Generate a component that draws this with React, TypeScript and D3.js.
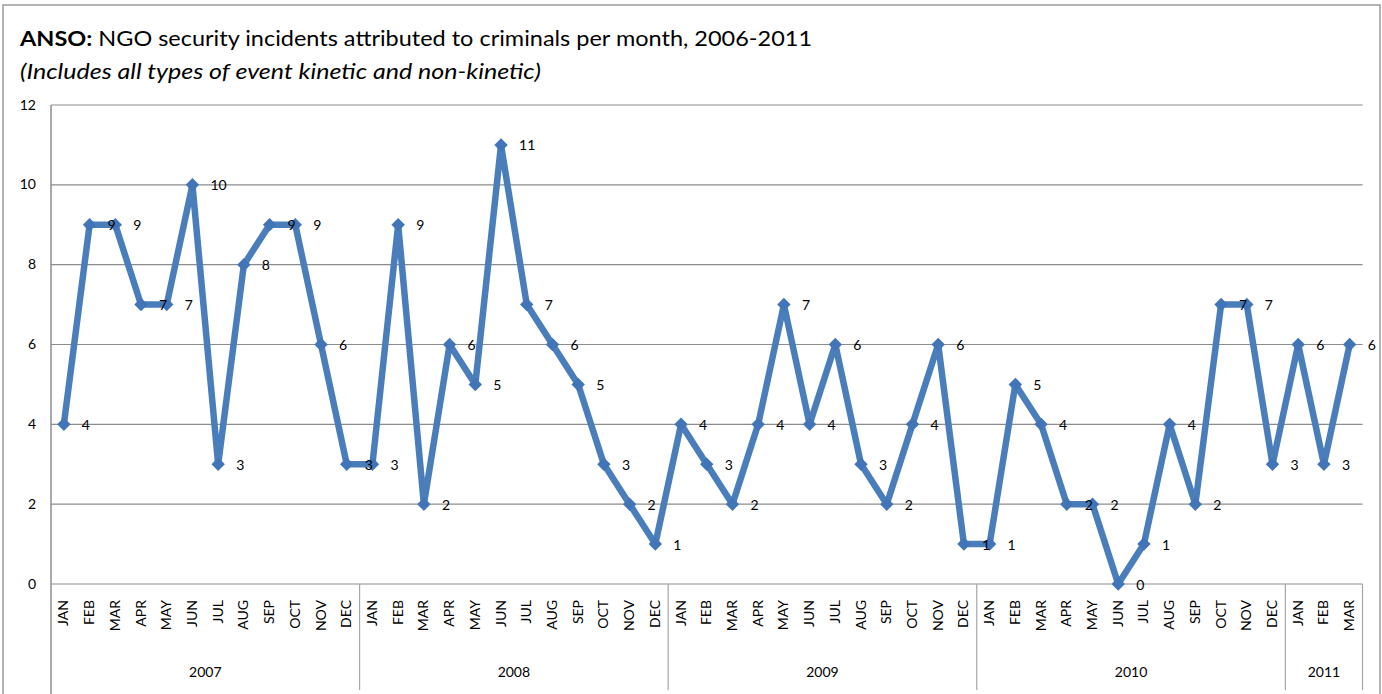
import React from "react";
import * as d3 from "d3";

const monthNames = ["JAN", "FEB", "MAR", "APR", "MAY", "JUN", "JUL", "AUG", "SEP", "OCT", "NOV", "DEC"];
const years = ["2007", "2008", "2009", "2010", "2011"];
const monthsPerYear = [12, 12, 12, 12, 3];

const incidents2007 = [4, 9, 9, 7, 7, 10, 3, 8, 9, 9, 6, 3];
const incidents2008 = [3, 9, 2, 6, 5, 11, 7, 6, 5, 3, 2, 1];
const incidents2009 = [4, 3, 2, 4, 7, 4, 6, 3, 2, 4, 6, 1];
const incidents2010 = [1, 5, 4, 2, 2, 0, 1, 4, 2, 7, 7, 3];
const incidents2011 = [6, 3, 6];

const yTicks = [0, 2, 4, 6, 8, 10, 12];

const W = 1382;
const H = 694;
const left = 51;
const right = 1362.5;
const top = 105;
const bottom = 584;

const font = "Lato, 'Open Sans', sans-serif";
const lineColor = "#4A7EBB";
const markerColor = "#4275B8";

type Pt = { key: string; month: string; year: string; value: number };

export default function App() {
  const seriesByYear = [incidents2007, incidents2008, incidents2009, incidents2010, incidents2011];
  const points: Pt[] = [];
  seriesByYear.forEach((vals, yi) => {
    vals.forEach((v, mi) => {
      points.push({ key: `${years[yi]}-${mi}`, month: monthNames[mi], year: years[yi], value: v });
    });
  });

  const x = d3
    .scaleBand<string>()
    .domain(points.map((p) => p.key))
    .range([left, right])
    .paddingInner(0)
    .paddingOuter(0);
  const bw = x.bandwidth();
  const cx = (k: string) => (x(k) as number) + bw / 2;
  const y = d3.scaleLinear().domain([0, 12]).range([bottom, top]);

  const line = d3
    .line<Pt>()
    .x((d) => cx(d.key))
    .y((d) => y(d.value));

  const diamond = d3.symbol().type(d3.symbolDiamond2).size(115)();

  // year group boundaries
  const groups: { year: string; start: number; end: number }[] = [];
  let idx = 0;
  years.forEach((yr, yi) => {
    const first = points[idx].key;
    const last = points[idx + monthsPerYear[yi] - 1].key;
    groups.push({ year: yr, start: x(first) as number, end: (x(last) as number) + bw });
    idx += monthsPerYear[yi];
  });

  return (
    <svg width={W} height={H} style={{ position: "absolute", left: 0, top: 0, background: "#fff" }}>
      <rect x={3} y={5} width={1377} height={H + 20} fill="#fff" stroke="#9a9a9a" strokeWidth={1.5} />

      <text x={20} y={46} fontFamily={font} fontSize={21.5} fill="#000" textLength={792} lengthAdjust="spacingAndGlyphs">
        <tspan fontWeight="bold">ANSO:</tspan>
        <tspan> NGO security incidents attributed to criminals per month, 2006-2011</tspan>
      </text>
      <text x={20} y={79} fontFamily={font} fontSize={21.5} fontStyle="italic" fill="#000" textLength={521} lengthAdjust="spacingAndGlyphs">
        (Includes all types of event kinetic and non-kinetic)
      </text>

      {/* horizontal gridlines and y tick labels */}
      {yTicks.map((t) => (
        <g key={t}>
          <line x1={left} x2={right} y1={y(t)} y2={y(t)} stroke="#8c8c8c" strokeWidth={1.2} />
          <text x={36} y={y(t) + 1} fontFamily={font} fontSize={14} textAnchor="end" dominantBaseline="middle" fill="#000">
            {t}
          </text>
        </g>
      ))}

      {/* value axis line */}
      <line x1={left} x2={left} y1={top} y2={H} stroke="#8c8c8c" strokeWidth={1.5} />

      {/* year separators */}
      {groups.map((g) => (
        <line key={g.year} x1={g.end} x2={g.end} y1={bottom} y2={690} stroke="#a6a6a6" strokeWidth={1.2} />
      ))}

      {/* month labels */}
      {points.map((p) => (
        <text
          key={"m" + p.key}
          transform={`translate(${cx(p.key) + 1},600) rotate(-90)`}
          fontFamily={font}
          fontSize={14}
          textAnchor="end"
          dominantBaseline="middle"
          fill="#000"
        >
          {p.month}
        </text>
      ))}

      {/* year labels */}
      {groups.map((g) => (
        <text key={"y" + g.year} x={(g.start + g.end) / 2} y={677} fontFamily={font} fontSize={14} textAnchor="middle" fill="#000">
          {g.year}
        </text>
      ))}

      <path d={line(points) || ""} fill="none" stroke={lineColor} strokeWidth={6.5} strokeLinejoin="round" />

      {points.map((p) => (
        <path key={"d" + p.key} d={diamond || ""} transform={`translate(${cx(p.key)},${y(p.value)})`} fill={markerColor} />
      ))}

      {points.map((p) => (
        <text
          key={"l" + p.key}
          x={cx(p.key) + 18}
          y={y(p.value) + 2}
          fontFamily={font}
          fontSize={14}
          dominantBaseline="middle"
          fill="#000"
        >
          {p.value}
        </text>
      ))}
    </svg>
  );
}
